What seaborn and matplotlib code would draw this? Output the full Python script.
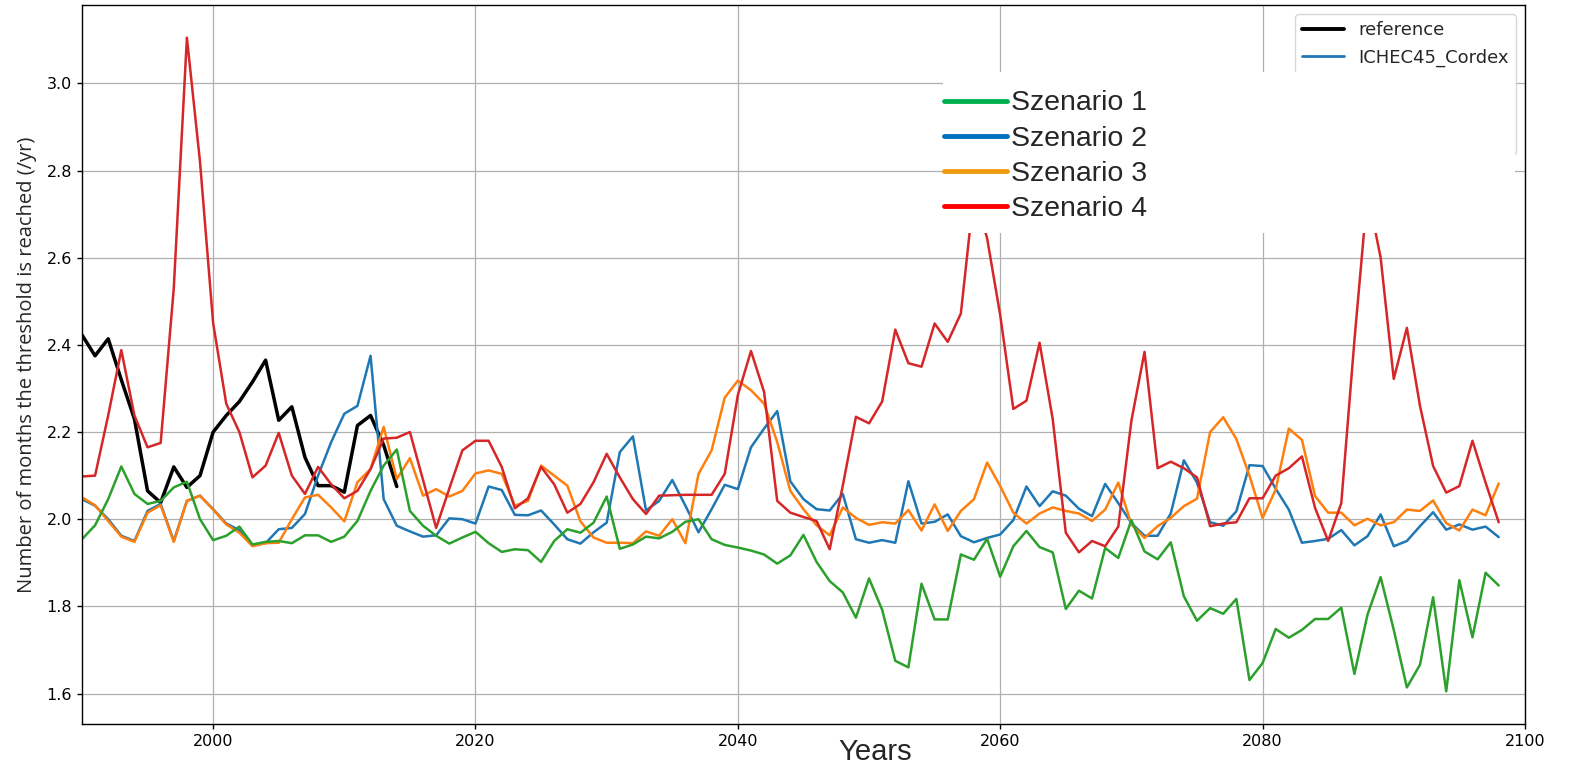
import numpy as np
import pandas as pd
import matplotlib
matplotlib.use("Agg")
import matplotlib.pyplot as plt
from matplotlib.lines import Line2D
from matplotlib.patches import Rectangle
import seaborn as sns

# yearly values
years = list(range(1990, 2099))
ref_years = list(range(1990, 2015))

reference = [2.423, 2.375, 2.414, 2.32, 2.23, 2.065, 2.038, 2.12, 2.073, 2.10,
             2.20, 2.238, 2.27, 2.315, 2.365, 2.227, 2.258, 2.142, 2.077, 2.077,
             2.062, 2.215, 2.238, 2.17, 2.075]

szenario1 = [1.954, 1.986, 2.046, 2.121, 2.058, 2.035, 2.042, 2.073, 2.086, 2.0,
             1.952, 1.962, 1.983, 1.942, 1.948, 1.95, 1.945, 1.963, 1.963, 1.948,
             1.96, 1.996, 2.065, 2.123, 2.16, 2.019, 1.985, 1.962, 1.944, 1.958,
             1.971, 1.945, 1.925, 1.931, 1.929, 1.902, 1.95, 1.977, 1.969, 1.992,
             2.052, 1.932, 1.942, 1.96, 1.956, 1.971, 1.994, 2.0, 1.954, 1.941,
             1.935, 1.928, 1.919, 1.898, 1.917, 1.964, 1.902, 1.858, 1.832, 1.774,
             1.864, 1.792, 1.675, 1.66, 1.852, 1.77, 1.77, 1.919, 1.907, 1.955,
             1.868, 1.938, 1.973, 1.936, 1.924, 1.794, 1.836, 1.818, 1.934, 1.911,
             1.998, 1.926, 1.908, 1.947, 1.823, 1.767, 1.796, 1.783, 1.817, 1.631,
             1.67, 1.748, 1.728, 1.746, 1.771, 1.771, 1.797, 1.645, 1.781, 1.867,
             1.746, 1.614, 1.666, 1.821, 1.605, 1.86, 1.729, 1.877, 1.848]

szenario2 = [2.046, 2.031, 2.0, 1.962, 1.95, 2.019, 2.035, 1.95, 2.042, 2.054,
             2.023, 1.99, 1.975, 1.94, 1.945, 1.977, 1.98, 2.012, 2.1, 2.177,
             2.242, 2.26, 2.375, 2.046, 1.985, 1.972, 1.96, 1.963, 2.002, 2.0,
             1.99, 2.075, 2.067, 2.01, 2.009, 2.02, 1.988, 1.954, 1.944, 1.97,
             1.992, 2.154, 2.19, 2.02, 2.042, 2.09, 2.031, 1.97, 2.023, 2.079,
             2.069, 2.165, 2.208, 2.248, 2.087, 2.046, 2.023, 2.02, 2.058, 1.954,
             1.946, 1.952, 1.946, 2.087, 1.99, 1.994, 2.011, 1.961, 1.947, 1.957,
             1.965, 1.998, 2.075, 2.03, 2.064, 2.054, 2.024, 2.007, 2.081, 2.037,
             1.991, 1.962, 1.962, 2.013, 2.135, 2.084, 1.993, 1.985, 2.018, 2.124,
             2.122, 2.07, 2.022, 1.946, 1.95, 1.955, 1.975, 1.94, 1.961, 2.011,
             1.938, 1.95, 1.984, 2.016, 1.976, 1.988, 1.976, 1.983, 1.959]

szenario3 = [2.05, 2.032, 1.996, 1.96, 1.948, 2.015, 2.032, 1.948, 2.042, 2.054,
             2.022, 1.988, 1.969, 1.938, 1.945, 1.946, 2.0, 2.05, 2.056, 2.027,
             1.995, 2.085, 2.115, 2.212, 2.092, 2.14, 2.054, 2.069, 2.052, 2.065,
             2.105, 2.112, 2.104, 2.031, 2.042, 2.123, 2.1, 2.077, 1.995, 1.958,
             1.946, 1.946, 1.945, 1.972, 1.962, 2.0, 1.945, 2.104, 2.158, 2.279,
             2.318, 2.296, 2.265, 2.177, 2.065, 2.023, 1.986, 1.963, 2.027, 2.003,
             1.987, 1.993, 1.99, 2.021, 1.974, 2.034, 1.973, 2.019, 2.046, 2.13,
             2.076, 2.015, 1.99, 2.013, 2.027, 2.019, 2.013, 1.996, 2.022, 2.084,
             1.988, 1.957, 1.984, 2.003, 2.03, 2.047, 2.2, 2.234, 2.184, 2.1,
             2.003, 2.068, 2.208, 2.182, 2.053, 2.015, 2.015, 1.986, 2.001, 1.986,
             1.993, 2.022, 2.019, 2.043, 1.991, 1.974, 2.022, 2.009, 2.082]

szenario4 = [2.098, 2.10, 2.238, 2.388, 2.238, 2.165, 2.175, 2.53, 3.105, 2.82,
             2.45, 2.265, 2.2, 2.096, 2.123, 2.198, 2.10, 2.058, 2.12, 2.08,
             2.048, 2.065, 2.115, 2.185, 2.187, 2.2, 2.09, 1.98, 2.07, 2.158,
             2.18, 2.18, 2.12, 2.025, 2.048, 2.12, 2.08, 2.015, 2.035, 2.085,
             2.15, 2.096, 2.046, 2.012, 2.054, 2.055, 2.056, 2.056, 2.056, 2.104,
             2.285, 2.386, 2.292, 2.042, 2.015, 2.005, 1.996, 1.931, 2.077, 2.235,
             2.22, 2.27, 2.435, 2.358, 2.35, 2.449, 2.407, 2.472, 2.75, 2.645,
             2.468, 2.253, 2.272, 2.405, 2.23, 1.969, 1.924, 1.95, 1.938, 1.983,
             2.226, 2.384, 2.117, 2.132, 2.117, 2.096, 1.984, 1.99, 1.993, 2.048,
             2.048, 2.1, 2.117, 2.144, 2.026, 1.95, 2.037, 2.41, 2.75, 2.6,
             2.322, 2.439, 2.26, 2.122, 2.061, 2.076, 2.18, 2.084, 1.993]

x_ticks = [2000, 2020, 2040, 2060, 2080, 2100]
szenario_labels = ["Szenario 1", "Szenario 2", "Szenario 3", "Szenario 4"]

sns.set_theme(style="ticks", rc={"axes.grid": True, "grid.color": "#b0b0b0",
                                 "grid.linewidth": 0.9, "axes.edgecolor": "black",
                                 "axes.linewidth": 1.0, "xtick.color": "black",
                                 "ytick.color": "black"})
plt.rcParams["font.family"] = ["DejaVu Sans"]

df = pd.concat([
    pd.DataFrame({"year": years, "value": szenario2, "series": "ICHEC45_Cordex"}),
    pd.DataFrame({"year": years, "value": szenario3, "series": "szen3"}),
    pd.DataFrame({"year": years, "value": szenario1, "series": "szen1"}),
    pd.DataFrame({"year": years, "value": szenario4, "series": "szen4"}),
])
df_ref = pd.DataFrame({"year": ref_years, "value": reference})

colors = {"ICHEC45_Cordex": "#1f77b4", "szen3": "#ff7f0e",
          "szen1": "#2ca02c", "szen4": "#d62728"}

fig, ax = plt.subplots(figsize=(15.7, 7.69))
fig.subplots_adjust(left=0.0522, right=0.9713, bottom=0.0585, top=0.9935)

sns.lineplot(data=df_ref, x="year", y="value", color="black", lw=2.5, ax=ax)
for name, col in colors.items():
    sns.lineplot(data=df[df["series"] == name], x="year", y="value",
                 color=col, lw=1.8, ax=ax)

ax.set_xlim(1990, 2100)
ax.set_xticks(x_ticks)
ax.tick_params(axis="both", direction="out", length=3.5, width=1,
               labelsize=11.5, bottom=True, left=True)
ax.set_ylabel("Number of months the threshold is reached (/yr)",
              fontsize=14.5, family="Open Sans")
ax.yaxis.set_label_coords(-0.031, 0.5)
ax.set_xlabel("Years", fontsize=21, family="Liberation Sans")
ax.xaxis.set_label_coords(0.5495, -0.0194)

# original legend (mostly hidden under the overlay box)
h1 = [Line2D([], [], color="black", lw=2.8),
      Line2D([], [], color="#1f77b4", lw=2),
      Line2D([], [], color="#ff7f0e", lw=2),
      Line2D([], [], color="#2ca02c", lw=2),
      Line2D([], [], color="#d62728", lw=2)]
ax.legend(h1, ["reference", "ICHEC45_Cordex", " ", " ", " "], loc="upper right",
          fontsize=13, handlelength=2.3, borderaxespad=0.5)

# white overlay box with the scenario legend
fig.add_artist(Rectangle((943 / 1570, 1 - 233 / 769), 572 / 1570, 161 / 769,
                         transform=fig.transFigure, fc="white", ec="none", zorder=10))
h2 = [Line2D([], [], color=c, lw=3.5) for c in ["#00b050", "#0070c0", "#f09a10", "#ff0000"]]
leg2 = fig.legend(h2, szenario_labels, loc="upper left",
                  bbox_to_anchor=(944 / 1570, 1 - 90.5 / 769), frameon=False,
                  prop={"family": "Liberation Sans", "size": 20.5},
                  handlelength=2.2, handletextpad=0.15, labelspacing=0.32,
                  borderpad=0, borderaxespad=0)
leg2.set_zorder(11)

fig.savefig("out.png", dpi=100)
